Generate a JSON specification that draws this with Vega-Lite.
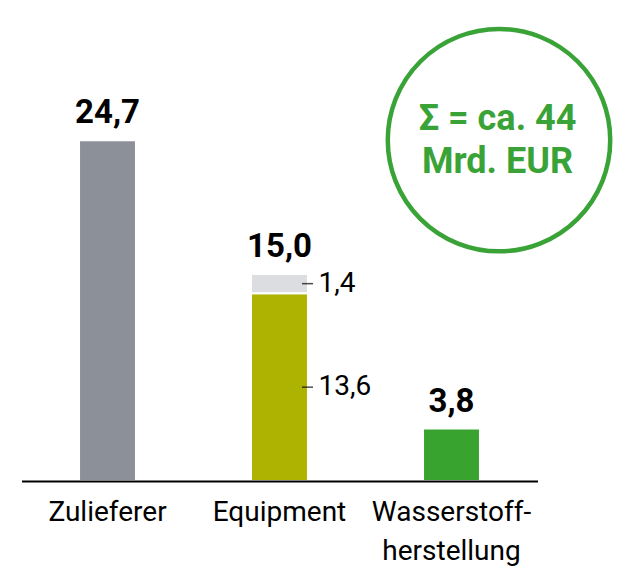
{
  "$schema": "https://vega.github.io/schema/vega-lite/v6.json",
  "width": 626,
  "height": 577,
  "autosize": {"type": "none"},
  "padding": 0,
  "background": "white",
  "config": {
    "view": {"stroke": null},
    "locale": {"number": {"decimal": ",", "thousands": ".", "grouping": [3], "currency": ["", " €"]}}
  },
  "datasets": {
    "bars": [
      {"cat": "Zulieferer", "part": "Zulieferer", "value": 24.7, "ord": 1},
      {"cat": "Equipment", "part": "Equipment", "value": 13.6, "ord": 1},
      {"cat": "Equipment", "part": "Equipment sonstige", "value": 1.4, "ord": 2},
      {"cat": "Wasserstoffherstellung", "part": "Wasserstoffherstellung", "value": 3.8, "ord": 1}
    ],
    "totals": [
      {"cat": "Zulieferer", "total": 24.7},
      {"cat": "Equipment", "total": 15.0},
      {"cat": "Wasserstoffherstellung", "total": 3.8}
    ],
    "note": [
      {"cat": "Wasserstoffherstellung", "y": 24.7, "text": "Σ = ca. 44\nMrd. EUR"}
    ]
  },
  "layer": [
    {
      "data": {"name": "bars"},
      "mark": {"type": "bar", "stroke": "white", "strokeWidth": 2},
      "encoding": {
        "x": {
          "field": "cat", "type": "nominal", "sort": null,
          "scale": {"domain": ["Zulieferer", "Equipment", "Wasserstoffherstellung"], "range": [21.5, 537.5], "paddingInner": 0.669, "paddingOuter": 0.3345},
          "axis": {
            "title": null, "orient": "bottom", "offset": -96, "ticks": false, "tickSize": 0,
            "domainColor": "#000000", "domainWidth": 2, "zindex": 1,
            "labelFont": "Roboto", "labelFontSize": 28, "labelColor": "#000000",
            "labelPadding": 17, "labelLineHeight": 39, "labelAngle": 0,
            "labelExpr": "datum.value == 'Wasserstoffherstellung' ? ['Wasserstoff-', 'herstellung'] : datum.label"
          }
        },
        "y": {
          "field": "value", "type": "quantitative", "stack": "zero",
          "scale": {"domain": [0, 34.855], "range": [481, 0], "nice": false, "zero": true},
          "axis": null
        },
        "color": {
          "field": "part", "type": "nominal", "legend": null,
          "scale": {"domain": ["Zulieferer", "Equipment", "Equipment sonstige", "Wasserstoffherstellung"], "range": ["#8c9098", "#adb300", "#dcdde0", "#38a32f"]}
        },
        "order": {"field": "ord"}
      }
    },
    {
      "data": {"name": "totals"},
      "mark": {"type": "text", "font": "Roboto", "fontWeight": "bold", "fontSize": 33, "baseline": "alphabetic", "dy": -17, "color": "#000000"},
      "encoding": {
        "x": {"field": "cat", "type": "nominal", "sort": null},
        "y": {"field": "total", "type": "quantitative"},
        "text": {"field": "total", "type": "quantitative", "format": ".1f"}
      }
    },
    {
      "data": {"name": "bars"},
      "transform": [
        {"stack": "value", "groupby": ["cat"], "sort": [{"field": "ord"}], "as": ["v0", "v1"]},
        {"calculate": "(datum.v0 + datum.v1) / 2", "as": "mid"},
        {"filter": "datum.cat == 'Equipment'"}
      ],
      "mark": {"type": "tick", "orient": "horizontal", "size": 11, "thickness": 1.5, "xOffset": 28, "color": "#000000"},
      "encoding": {
        "x": {"field": "cat", "type": "nominal", "sort": null},
        "y": {"field": "mid", "type": "quantitative"}
      }
    },
    {
      "data": {"name": "bars"},
      "transform": [
        {"stack": "value", "groupby": ["cat"], "sort": [{"field": "ord"}], "as": ["v0", "v1"]},
        {"calculate": "(datum.v0 + datum.v1) / 2", "as": "mid"},
        {"filter": "datum.cat == 'Equipment'"}
      ],
      "mark": {"type": "text", "font": "Roboto", "fontSize": 28, "align": "left", "baseline": "middle", "dx": 39, "color": "#000000"},
      "encoding": {
        "x": {"field": "cat", "type": "nominal", "sort": null},
        "y": {"field": "mid", "type": "quantitative"},
        "text": {"field": "value", "type": "quantitative", "format": ".1f"}
      }
    },
    {
      "data": {"name": "note"},
      "mark": {"type": "point", "shape": "circle", "filled": false, "stroke": "#3aa337", "strokeWidth": 4.5, "size": 49481, "xOffset": 47.5, "opacity": 1},
      "encoding": {
        "x": {"field": "cat", "type": "nominal", "sort": null},
        "y": {"field": "y", "type": "quantitative"}
      }
    },
    {
      "data": {"name": "note"},
      "mark": {"type": "text", "font": "Roboto", "fontWeight": "bold", "fontSize": 36, "align": "center", "baseline": "middle", "lineBreak": "\n", "lineHeight": 43, "xOffset": 46, "dy": -21, "color": "#3aa337"},
      "encoding": {
        "x": {"field": "cat", "type": "nominal", "sort": null},
        "y": {"field": "y", "type": "quantitative"},
        "text": {"field": "text", "type": "nominal"}
      }
    }
  ]
}
